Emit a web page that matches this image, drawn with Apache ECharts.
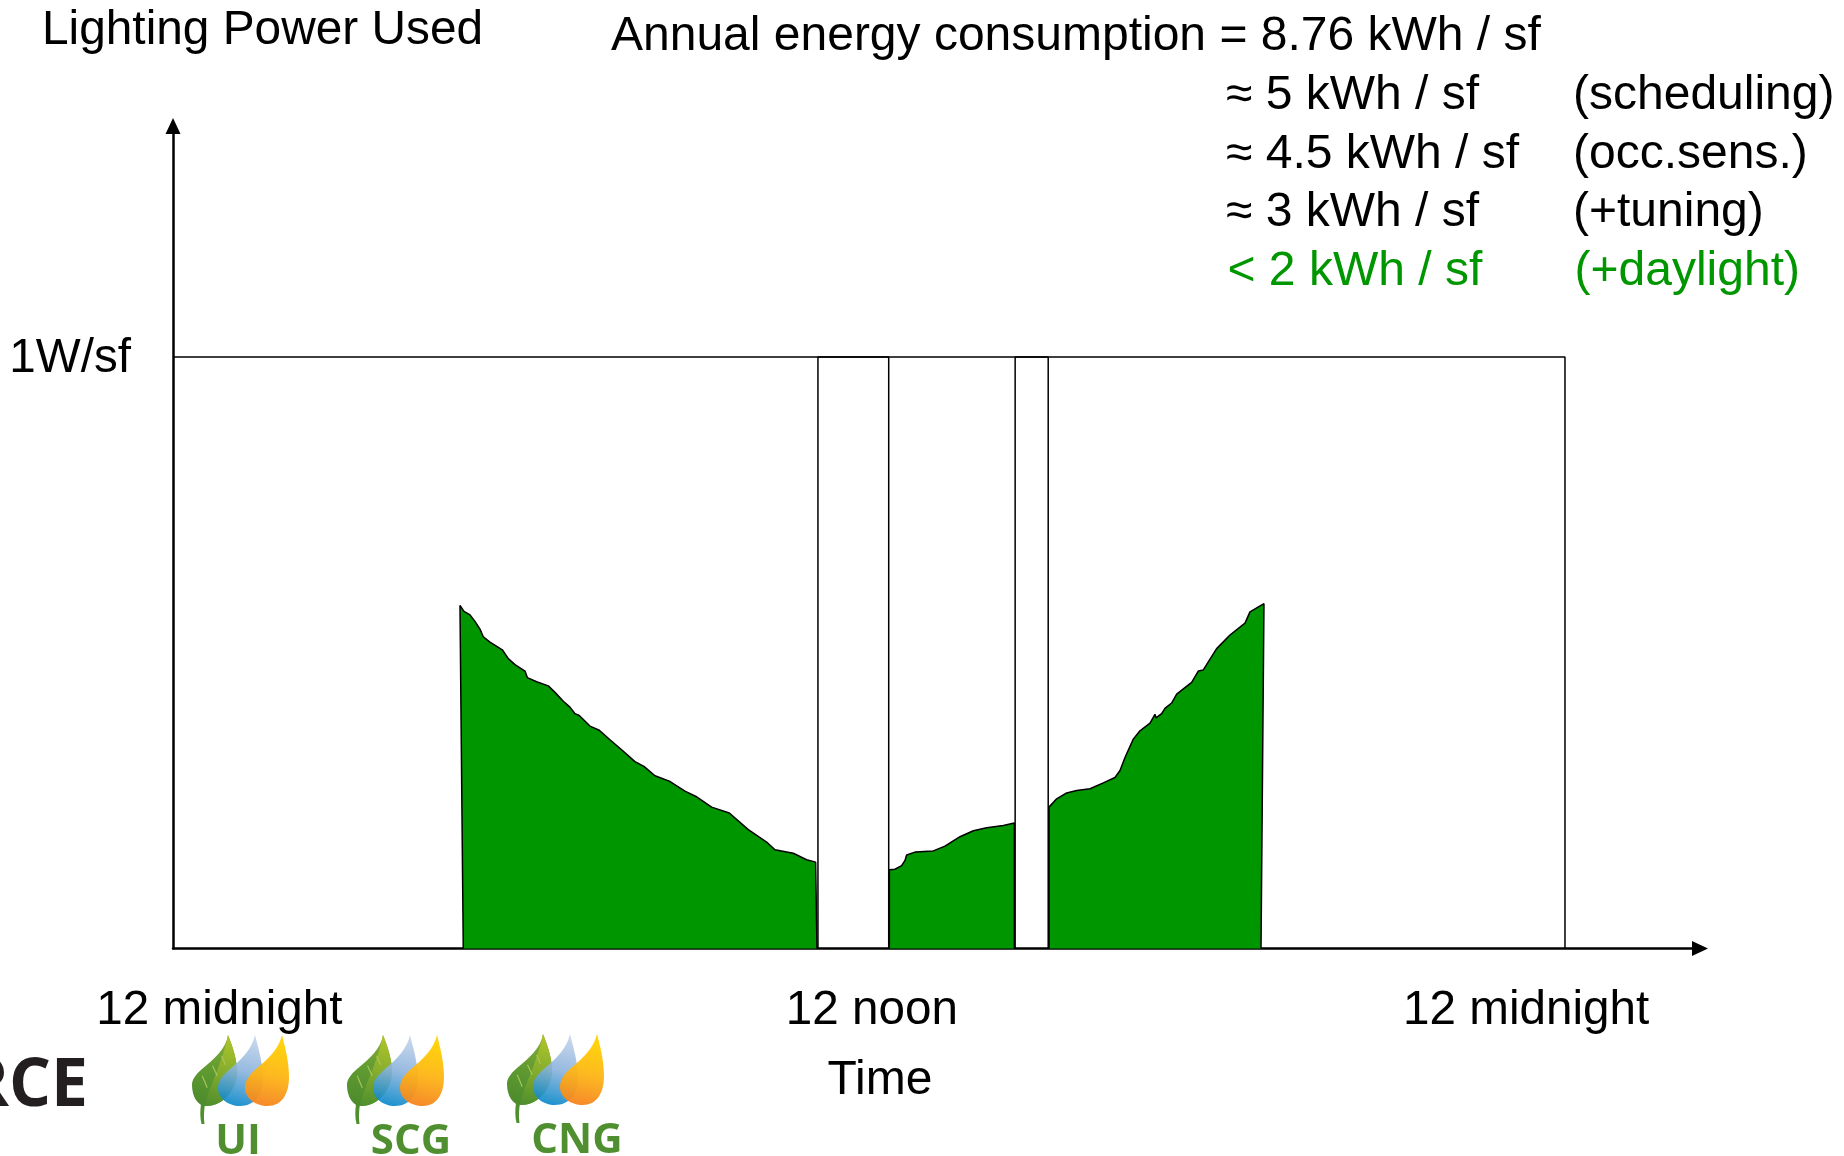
<!DOCTYPE html>
<html><head><meta charset="utf-8">
<style>html,body{margin:0;padding:0;background:#fff}#c{width:1844px;height:1156px}</style>
<script src="https://cdn.jsdelivr.net/npm/echarts@6/dist/echarts.min.js"></script>
</head><body><div id="c"></div>
<script>
// Values: hour of day, power in W/sf
const morning = [[5.005,0],[4.948,.580],[5.017,.570],[5.121,.564],[5.206,.553],[5.293,.540],[5.350,.527],[5.465,.518],[5.678,.505],[5.781,.490],[5.896,.480],[6.069,.469],[6.109,.458],[6.270,.451],[6.471,.444],[6.586,.433],[6.730,.418],[6.844,.408],[6.931,.397],[7.005,.394],[7.189,.376],[7.350,.369],[7.534,.353],[7.735,.336],[7.965,.316],[8.120,.308],[8.310,.292],[8.557,.283],[8.827,.266],[9.017,.257],[9.287,.239],[9.592,.229],[9.919,.201],[10.235,.180],[10.379,.167],[10.695,.161],[10.925,.150],[11.080,.146],[11.103,0]];
const midday = [[12.351,0],[12.351,.133],[12.448,.134],[12.563,.140],[12.621,.149],[12.649,.158],[12.793,.163],[13.109,.165],[13.310,.173],[13.569,.189],[13.799,.199],[14.029,.204],[14.316,.208],[14.506,.212],[14.506,0]];
const afternoon = [[15.104,0],[15.104,.239],[15.236,.253],[15.408,.263],[15.581,.267],[15.811,.270],[16.040,.280],[16.241,.289],[16.328,.301],[16.414,.323],[16.557,.354],[16.672,.368],[16.845,.381],[16.931,.396],[16.948,.390],[17.046,.397],[17.103,.406],[17.218,.415],[17.305,.430],[17.563,.450],[17.678,.469],[17.764,.471],[17.994,.507],[18.224,.530],[18.483,.550],[18.569,.569],[18.810,.583],[18.759,0]];
const fullPowerBox = [[0,1],[24,1],[24,0]];
const lunchBox = [[11.12,-.001],[11.12,1],[12.34,1],[12.34,-.001]];
const breakBox = [[14.52,0],[14.52,1],[15.09,1],[15.09,0]];
const xTickHours = [0.8,12.05,23.33];
const xTickLabels = ['12 midnight','12 noon','12 midnight'];
const yTickValues = [0.996];
const yTickLabels = ['1W/sf'];
const yAxisTitle = 'Lighting Power Used';
const xAxisTitle = 'Time';
const headline = 'Annual energy consumption = 8.76 kWh / sf';
const savings = ['≈ 5 kWh / sf','≈ 4.5 kWh / sf','≈ 3 kWh / sf','< 2 kWh / sf'];
const measures = ['(scheduling)','(occ.sens.)','(+tuning)','(+daylight)'];
const brands = ['UI','SCG','CNG'];

const FONT = '"Liberation Sans", Arial, sans-serif';
const GREEN = '#009600';
const SIZE = 48;
const lg = (a,b,c,d,stops)=>new echarts.graphic.LinearGradient(a,b,c,d,stops.map((s,i)=>({offset:i/(stops.length-1),color:s})));
const shape = (name,pathData)=>echarts.graphic.registerShape(name,echarts.graphic.extendPath(pathData,{}));
shape('logoLeaf','M36,0C34,14 22,24 10,34C3,40 0,45 0,50C0,62 6,71 14,71C30,71 42,58 45,40C46,26 40,10 36,0Z');
shape('logoFold','M36,0C40,10 46,26 45,40C42,58 30,71 13,71C17,50 30,30 36,0Z');
shape('logoStem','M9,69C8,76 8,83 9.5,89L12.5,89C11.5,82 12,76 13,69Z');
shape('logoVeins','M9.7,41L14.7,53L15.8,52.5L10.7,40.5ZM20,31L24.7,41L25.8,40.5L21,30.5ZM29,21L33,30L34,29.5L30,20.5Z');
shape('logoBlue','M63,0C60,14 50,24 38,34C30,41 26,46 26,53C26,63 36,71 48,71C62,71 71,60 71,44C71,28 66,12 63,0Z');
shape('logoOrange','M90,0C87,14 76,24 64,34C57,40 53,46 53,53C53,63 63,71 76,71C89,71 97,60 97,42C97,26 93,12 90,0Z');

function txt(text,x,y,opt){
  return {type:'text',x,y,silent:true,style:Object.assign({text,font:`${SIZE}px ${FONT}`,fill:'#000',textAlign:'left',textVerticalAlign:'middle'},opt||{})};
}
function logo(x,y,label,labelX){
  const p=(type,fill,opacity)=>({type,style:{fill,opacity:opacity==null?1:opacity},silent:true});
  return [
    {type:'group',x,y,silent:true,children:[
      p('logoStem','#4f8f2f'),
      p('logoLeaf',lg(.6,0,.3,1,['#86ad38','#5f9a31','#4c8a2c'])),
      p('logoFold',lg(.7,0,.2,1,['#b0c62a','#86ad2e','#4f8f2d'])),
      p('logoVeins','#a9c65a'),
      p('logoBlue',lg(.7,0,.3,1,['#c6d5ec','#8ab2dc','#0085c8']),.9),
      p('logoOrange',lg(.6,.1,.3,1,['#ffd000','#fdb515','#f58220']),.95)
    ]},
    txt(label,labelX,y+107,{font:`bold 42px "Open Sans", ${FONT}`,fill:'#4f8f2f',textAlign:'center'})
  ];
}
const graphics=[
  txt(yAxisTitle,42,31,{font:`47.8px ${FONT}`}),
  txt(headline,611,37),
  txt(xAxisTitle,880,1081,{textAlign:'center'}),
  txt('RCE',88,1087,{font:`bold 66px "Open Sans", ${FONT}`,fill:'#231f20',textAlign:'right'}),
  ...logo(192,1035,brands[0],238),
  ...logo(347,1035,brands[1],411),
  ...logo(507,1034,brands[2],577)
];
savings.forEach((s,i)=>{
  const last=i===savings.length-1, fill=last?GREEN:'#000', y=96+i*58.6, dx=last?1.5:0;
  graphics.push(txt(s,1226+dx,y,{fill}));
  graphics.push(txt(measures[i],1573+dx,y,{fill}));
});

const area=data=>({type:'line',data,symbol:'none',smooth:false,clip:false,z:3,silent:true,
  lineStyle:{color:'#000',width:1.5},areaStyle:{color:GREEN,opacity:1,origin:'start'}});
const outline=data=>({type:'line',data,symbol:'none',clip:false,z:4,silent:true,lineStyle:{color:'#000',width:1.5}});

const chart=echarts.init(document.getElementById('c'),null,{renderer:'canvas'});
chart.setOption({
  animation:false,backgroundColor:'#fff',
  grid:{left:173,top:126,right:144,bottom:207.5,containLabel:false},
  xAxis:{type:'value',min:0,max:26.328,splitLine:{show:false},axisTick:{show:false},
    axisLine:{onZero:false,symbol:['none','triangle'],symbolSize:[15,16],lineStyle:{color:'#000',width:2.5}},
    axisLabel:{customValues:xTickHours,margin:38,color:'#000',fontFamily:FONT,fontSize:47.6,hideOverlap:false,
      formatter:v=>xTickLabels[xTickHours.indexOf(v)]||''}},
  yAxis:{type:'value',min:0,max:1.3905,splitLine:{show:false},axisTick:{show:false},
    axisLine:{show:true,onZero:false,symbol:['none','triangle'],symbolSize:[15,16],lineStyle:{color:'#000',width:2.5}},
    axisLabel:{customValues:yTickValues,margin:42,color:'#000',fontFamily:FONT,fontSize:47.6,
      formatter:v=>yTickLabels[yTickValues.indexOf(v)]||''}},
  series:[area(morning),area(midday),area(afternoon),outline(fullPowerBox),outline(lunchBox),outline(breakBox)],
  graphic:graphics
});
</script></body></html>
